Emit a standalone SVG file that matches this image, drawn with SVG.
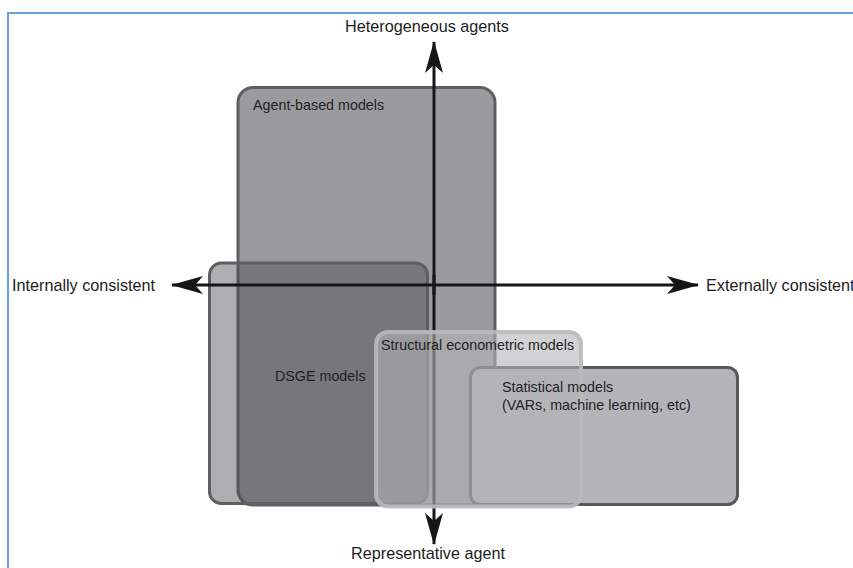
<svg xmlns="http://www.w3.org/2000/svg" width="853" height="568" viewBox="0 0 853 568">
<style>
text{font-family:"Liberation Sans",Arial,sans-serif;fill:#1c1c1c}
.ax{font-size:16.2px}
.lb{font-size:14.3px;fill:#222}
.axis{stroke:#161616;stroke-width:3;fill:none}
</style>
<defs>
<marker id="ah" viewBox="0 0 32 18" refX="31" refY="9" markerWidth="32" markerHeight="18" markerUnits="userSpaceOnUse" orient="auto-start-reverse">
<path d="M0,0 L32,9 L0,18 L8,9 Z" fill="#161616"/>
</marker>
</defs>
<rect width="853" height="568" fill="#fff"/>
<path d="M8,568 V13 H853" fill="none" stroke="#6c9fdc" stroke-width="2"/>
<g id="agent-based">
<rect x="238" y="87.5" width="257" height="417.5" rx="15" fill="#9b9b9f" stroke="#5f5f62" stroke-width="3"/>
<text class="lb" x="253" y="110">Agent-based models</text>
</g>
<g id="dsge">
<rect x="209.5" y="263" width="218" height="240.5" rx="12" fill="rgb(75,75,79)" fill-opacity="0.45" stroke="#5f5f62" stroke-width="3"/>
<text class="lb" x="275" y="381">DSGE models</text>
</g>
<g id="statistical">
<rect x="470.5" y="367.5" width="267" height="137" rx="10" fill="#b5b5b9" stroke="#58585b" stroke-width="3"/>
</g>
<g id="axes">
<line class="axis" x1="434" y1="295" x2="434" y2="42" marker-end="url(#ah)"/>
<line class="axis" x1="434" y1="275" x2="434" y2="544" marker-end="url(#ah)"/>
<line class="axis" x1="434" y1="285" x2="172" y2="285" marker-end="url(#ah)"/>
<line class="axis" x1="434" y1="285" x2="698" y2="285" marker-end="url(#ah)"/>
</g>
<g id="structural">
<rect x="376" y="332" width="205" height="174.5" rx="12" fill="rgb(180,180,184)" fill-opacity="0.6" stroke="#b9b9bc" stroke-opacity="0.9" stroke-width="4"/>
<text class="lb" x="381" y="350">Structural econometric models</text>
</g>
<g id="statistical-label">
<text class="lb" x="502" y="391.5">Statistical models</text>
<text class="lb" x="502" y="409.5">(VARs, machine learning, etc)</text>
</g>
<g id="labels">
<text class="ax" x="427" y="32" text-anchor="middle">Heterogeneous agents</text>
<text class="ax" x="428" y="559" text-anchor="middle">Representative agent</text>
<text class="ax" x="12" y="291">Internally consistent</text>
<text class="ax" x="706" y="291">Externally consistent</text>
</g>
</svg>
